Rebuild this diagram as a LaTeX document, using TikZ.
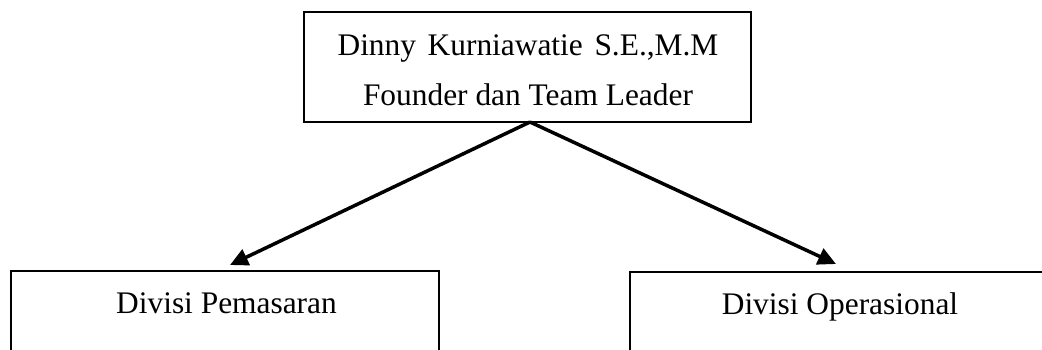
\documentclass[tikz,border=0pt]{standalone}
\usepackage{fontspec}
\setmainfont{Liberation Serif}
\usetikzlibrary{arrows.meta}
\tikzset{
  orgbox/.style={draw=black, line width=2pt, rectangle, inner sep=0pt},
  lbl/.style={anchor=base, inner sep=0pt, font=\fontsize{31.4pt}{36pt}\selectfont},
  conn/.style={line width=3.5pt, -{Triangle[length=18pt,width=17pt]}}
}
\begin{document}
\begin{tikzpicture}[x=1pt,y=-1pt]
  \clip (0,0) rectangle (1042,350);
  \fill[white] (0,0) rectangle (1042,350);
  % top box
  \node[orgbox, minimum width=447pt, minimum height=110pt] (top) at (527.5,67) {};
  \node[lbl] (t1) at (528,56) {Dinny\hspace{0.12em} Kurniawatie\hspace{0.12em} S.E.,M.M};
  \node[lbl] (t2) at (528,106) {Founder dan Team Leader};
  % bottom boxes
  \node[orgbox, minimum width=428pt, minimum height=120pt] (left) at (225,331) {};
  \node[lbl] (l1) at (226.5,313) {Divisi Pemasaran};
  \node[orgbox, minimum width=430pt, minimum height=120pt] (right) at (845,332) {};
  \node[lbl] (r1) at (840,314) {Divisi Operasional};
  % connectors
  \coordinate (apex) at (530,122);
  \coordinate (tipL) at (230,265);
  \coordinate (tipR) at (836,264);
  \draw[conn] (apex) -- (tipL);
  \draw[conn] (apex) -- (tipR);
\end{tikzpicture}
\end{document}
